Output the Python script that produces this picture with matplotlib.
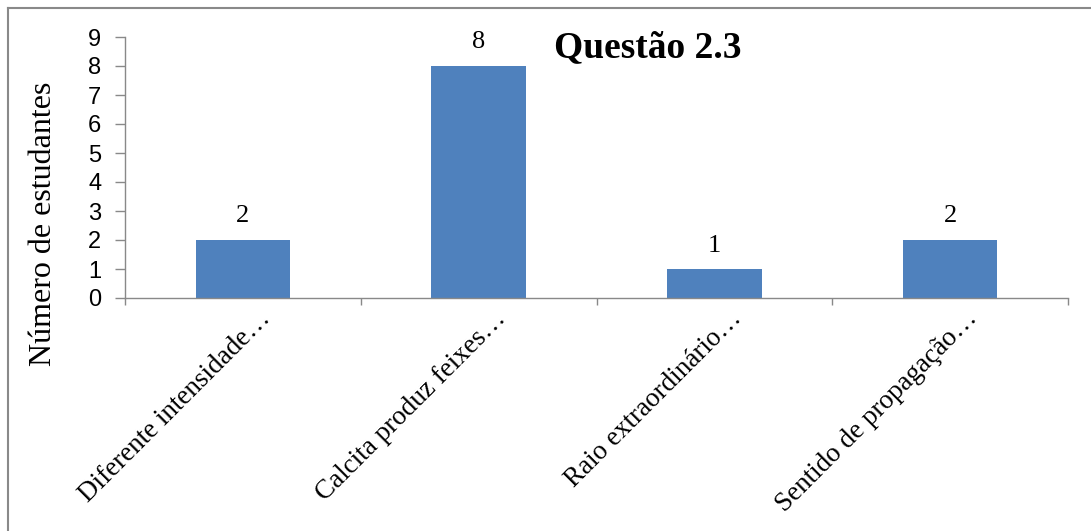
import matplotlib
matplotlib.use("Agg")
import matplotlib.pyplot as plt
import matplotlib.transforms as mtransforms
from matplotlib.lines import Line2D

categories = ["Diferente intensidade…", "Calcita produz feixes…",
              "Raio extraordinário…", "Sentido de propagação…"]
values = [2, 8, 1, 2]
yticks = list(range(0, 10))
title = "Questão 2.3"
ylabel = "Número de estudantes"

W, H = 1091, 531
fig = plt.figure(figsize=(W / 100, H / 100), dpi=100)
ax = fig.add_axes([125 / W, 1 - 298 / H, (1068 - 125) / W, (298 - 37) / H])

serif = ["Liberation Serif", "DejaVu Serif"]
sans = ["Liberation Sans", "DejaVu Sans"]
gray = "#898989"

x = list(range(len(categories)))
ax.bar(x, values, width=0.4, color="#4F81BD", zorder=2)
ax.set_xlim(-0.5, len(categories) - 0.5)
ax.set_ylim(0, 9)
ax.set_yticks(yticks)
ax.set_yticklabels([str(t) for t in yticks], family=sans, fontsize=17)

for xi, v in zip(x, values):
    ax.annotate(str(v), (xi, v), xytext=(0, 9), textcoords="offset points",
                ha="center", va="bottom", family=serif, fontsize=19)

# category boundary ticks
ax.set_xticks([i - 0.5 for i in range(len(categories) + 1)])
ax.set_xticklabels([])
ax.set_xticks(x, minor=True)
ax.set_xticklabels(categories, minor=True, rotation=45, ha="right",
                   rotation_mode="anchor", family=serif, fontsize=19.5)
ax.tick_params(axis="x", which="minor", length=0, pad=6)
ax.tick_params(axis="x", which="major", direction="out", length=5, color=gray, width=1)
ax.tick_params(axis="y", direction="out", length=7, color=gray, width=1, pad=10)
offset = mtransforms.ScaledTranslation(15 / 100, 0, fig.dpi_scale_trans)
for lab in ax.get_xticklabels(minor=True):
    lab.set_transform(lab.get_transform() + offset)

for s in ["top", "right"]:
    ax.spines[s].set_visible(False)
for s in ["left", "bottom"]:
    ax.spines[s].set_color(gray)
    ax.spines[s].set_linewidth(1)

ax.set_ylabel(ylabel, family=serif, fontsize=23)
ax.yaxis.set_label_coords((58 - 125) / (1068 - 125), (298 - 224) / (298 - 37))
fig.text(648 / W, 1 - 48 / H, title, ha="center", va="center",
         family=serif, fontsize=27, fontweight="bold")

# outer chart frame (only top and left visible)
fig.add_artist(Line2D([8 / W, 1.0], [1 - 8 / H, 1 - 8 / H], transform=fig.transFigure,
                      color=gray, lw=1.5))
fig.add_artist(Line2D([8 / W, 8 / W], [0.0, 1 - 8 / H], transform=fig.transFigure,
                      color=gray, lw=1.5))

fig.savefig("out.png", dpi=100)
